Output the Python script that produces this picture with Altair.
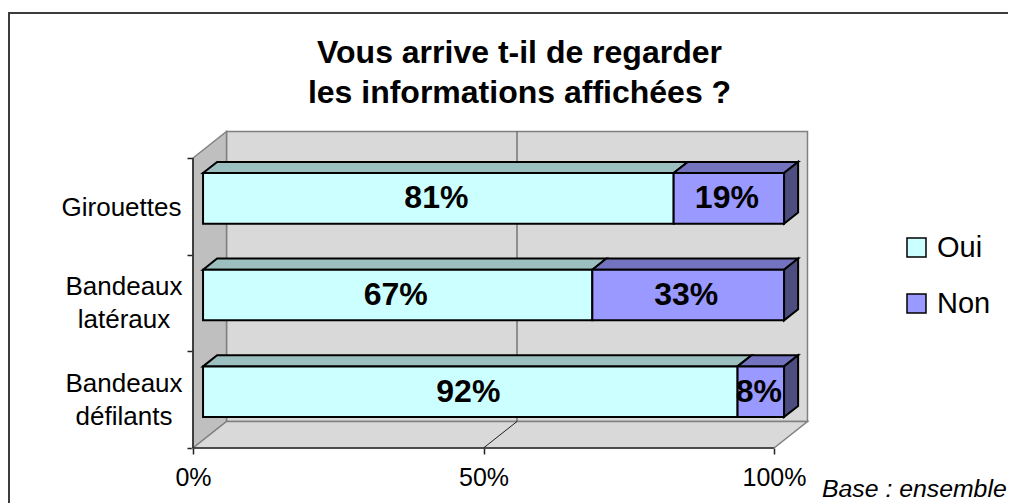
import altair as alt
import pandas as pd

categories = ["Bandeaux\ndéfilants", "Bandeaux\nlatéraux", "Girouettes"]
oui = [92, 67, 81]
non = [8, 33, 19]
series = ["Oui", "Non"]
axis_ticks = [0, 50, 100]
row_ticks = [0, 1, 2, 3]
title_lines = ["Vous arrive t-il de regarder", "les informations affichées ?"]
note = "Base : ensemble"

W, H = 1000, 495
PX_PCT = 5.81
PX_ROW = 96.67
X0, Y0 = 185, 440
x_scale = alt.Scale(domain=[-X0 / PX_PCT, (W - X0) / PX_PCT], range=[0, W], nice=False, zero=False)
y_scale = alt.Scale(domain=[(Y0 - H) / PX_ROW, Y0 / PX_ROW], range=[H, 0], nice=False, zero=False)
x_axis = alt.Axis(
    values=axis_ticks, offset=Y0 - H, orient="bottom", domain=False, grid=False, tickColor="#222222", tickSize=6,
    tickWidth=1.5, labelFont="Liberation Sans", labelFontSize=25, labelColor="#000000", labelPadding=11,
    labelExpr="datum.value + '%'", title=None)
y_axis = alt.Axis(
    values=row_ticks, offset=-X0, orient="left", domain=False, grid=False, labels=False, tickColor="#222222",
    tickSize=6, tickWidth=1.5, title=None)

DX = 33.5 / PX_PCT   # depth of the floor along x, percent units
DY = 26.5 / PX_ROW   # depth of the floor along y, row units
XF = alt.X("x:Q", scale=x_scale, axis=x_axis)
YF = alt.Y("y:Q", scale=y_scale, axis=y_axis, stack=False)
Y2F = alt.Y2("y2:Q")
X2F = alt.X2("x2:Q")


def px(p, z):
    return p + z * DX


def py(r, z):
    return r + z * DY


FRONT, BACK = 0.30, 0.72
HALF = 0.262
faces = {"Oui": ("#9BC0BF", None), "Non": ("#7373BF", "#4D4D80")}
tops, sides, fronts, labels = [], [], [], []
for i, cat in enumerate(categories):
    r = i + 0.5
    start = 0
    for s, vals in zip(series, (oui, non)):
        v = vals[i]
        a, b = start, start + v
        yt_f, yb_f = py(r + HALF, FRONT), py(r - HALF, FRONT)
        yt_b, yb_b = py(r + HALF, BACK), py(r - HALF, BACK)
        f = f"{s}{i}"
        xa_f, xb_f, xa_b, xb_b = px(a, FRONT), px(b, FRONT), px(a, BACK), px(b, BACK)
        for x, y, y2 in [(xa_f, yt_f, yt_f), (xa_b, yt_b, yt_f), (xb_f, yt_b, yt_f), (xb_b, yt_b, yt_b)]:
            tops.append(dict(x=x, y=y, y2=y2, face=f, col=faces[s][0]))
        if s == "Non":
            for x, y, y2 in [(xb_f, yt_f, yb_f), (xb_b, yt_b, yb_b)]:
                sides.append(dict(x=x, y=y, y2=y2, face=f, col=faces[s][1]))
        fronts.append(dict(x=xa_f, x2=xb_f, y=yt_f, y2=yb_f, serie=s))
        labels.append(dict(x=px((a + b) / 2, FRONT), y=py(r, FRONT), t=f"{v}%"))
        start = b

LEFT, RIGHT, BOTTOM, TOP = 0, 100, 0, 3
walls_back = pd.DataFrame([dict(x=px(LEFT, 1), y=py(TOP, 1), y2=py(BOTTOM, 1)), dict(x=px(RIGHT, 1), y=py(TOP, 1), y2=py(BOTTOM, 1))])
wall_left = pd.DataFrame([dict(x=px(LEFT, 0), y=py(TOP, 0), y2=py(BOTTOM, 0)), dict(x=px(LEFT, 1), y=py(TOP, 1), y2=py(BOTTOM, 1))])
floor = pd.DataFrame([
    dict(x=px(LEFT, 0), y=py(BOTTOM, 0), y2=py(BOTTOM, 0)),
    dict(x=px(LEFT, 1), y=py(BOTTOM, 1), y2=py(BOTTOM, 0)),
    dict(x=px(RIGHT, 0), y=py(BOTTOM, 1), y2=py(BOTTOM, 0)),
    dict(x=px(RIGHT, 1), y=py(BOTTOM, 1), y2=py(BOTTOM, 1)),
])


def poly(df, fill, stroke="#808080", sw=1.5):
    return alt.Chart(df).mark_area(fill=fill, stroke=stroke, strokeWidth=sw, opacity=1).encode(x=XF, y=YF, y2=Y2F)


grid_back = pd.DataFrame({"x": [px(50, 1)], "y": [py(BOTTOM, 1)], "y2": [py(TOP, 1)]})
grid = alt.Chart(grid_back).mark_rule(color="#444444", strokeWidth=1).encode(x=XF, y=YF, y2=Y2F)
grid_floor = pd.DataFrame([dict(x=px(50, 0), y=py(BOTTOM, 0)), dict(x=px(50, 1), y=py(BOTTOM, 1))])
grid2 = alt.Chart(grid_floor).mark_line(color="#222222", strokeWidth=1).encode(x=XF, y=YF)

left_line = alt.Chart(pd.DataFrame({"x": [px(LEFT, 0)], "y": [py(BOTTOM, 0)], "y2": [py(TOP, 0)]})).mark_rule(
    color="#222222", strokeWidth=1.5).encode(x=XF, y=YF, y2=Y2F)
bottom_line = alt.Chart(pd.DataFrame({"x": [px(LEFT, 0)], "x2": [px(RIGHT, 0)], "y": [py(BOTTOM, 0)]})).mark_rule(
    color="#333333", strokeWidth=1.5).encode(x=XF, x2=X2F, y=YF)

top_layer = alt.Chart(pd.DataFrame(tops)).mark_area(stroke="black", strokeWidth=2, opacity=1).encode(
    x=XF, y=YF, y2=Y2F, detail="face:N", fill=alt.Fill("col:N", scale=None))
side_layer = alt.Chart(pd.DataFrame(sides)).mark_area(stroke="black", strokeWidth=2, opacity=1).encode(
    x=XF, y=YF, y2=Y2F, detail="face:N", fill=alt.Fill("col:N", scale=None))
front_layer = alt.Chart(pd.DataFrame(fronts)).mark_rect(stroke="black", strokeWidth=2).encode(
    x=XF, x2=X2F, y=YF, y2=Y2F,
    fill=alt.Fill("serie:N", scale=alt.Scale(domain=series, range=["#CCFFFF", "#9999FF"]), legend=alt.Legend(
        orient="none", legendX=894, legendY=225, title=None, symbolType="square", symbolSize=361,
        symbolStrokeColor="black", symbolStrokeWidth=1.5, symbolOpacity=1, labelFont="Liberation Sans", labelFontSize=29, labelColor="#000000",
        rowPadding=26, labelOffset=6, values=series)))

label_layer = alt.Chart(pd.DataFrame(labels)).mark_text(
    font="Liberation Sans", fontSize=32, fontWeight="bold", color="#000000", dx=-2).encode(
    x=XF, y=YF, text="t:N")

cat_df = pd.DataFrame({
    "cat": categories,
    "y": [i + 0.5 + (16 if "\n" in c else -2) / PX_ROW for i, c in enumerate(categories)],
    "xp": [116 if "\n" in c else 113.5 for c in categories],
})
cat_layer = alt.Chart(cat_df).mark_text(
    font="Liberation Sans", fontSize=26, color="#000000", lineBreak="\n", lineHeight=33, align="center").encode(
    x=alt.X("xp:Q", scale=None), y=YF, text="cat:N")

note_layer = alt.Chart(pd.DataFrame({"t": [note]})).mark_text(
    font="Liberation Sans", fontSize=24.8, fontStyle="italic", color="#000000", align="left", baseline="alphabetic").encode(
    x=alt.value(814), y=alt.value(489), text="t:N")

border_left = alt.Chart(pd.DataFrame({"a": [0]})).mark_rule(color="#3c3c3c", strokeWidth=2).encode(
    x=alt.value(1), y=alt.value(4), y2=alt.value(H))
border_top = alt.Chart(pd.DataFrame({"a": [0]})).mark_rule(color="#3c3c3c", strokeWidth=2).encode(
    y=alt.value(5), x=alt.value(0), x2=alt.value(W))

chart = alt.layer(
    border_left, border_top,
    poly(walls_back, "#D9D9D9"), poly(wall_left, "#BFBFBF"), poly(floor, "#D9D9D9"),
    grid, grid2, left_line, bottom_line,
    top_layer, side_layer, front_layer, label_layer, cat_layer, note_layer,
).properties(
    width=W, height=H, padding=0, autosize=alt.AutoSizeParams(type="none"), background="white",
    title=alt.TitleParams(text=title_lines, anchor="middle", dx=11.5, dy=106, baseline="top", font="Liberation Sans",
                          fontSize=32, fontWeight="bold", color="#000000", lineHeight=40),
).configure_view(stroke=None)

chart.save("out.html", embed_options={"renderer": "svg", "actions": False})
